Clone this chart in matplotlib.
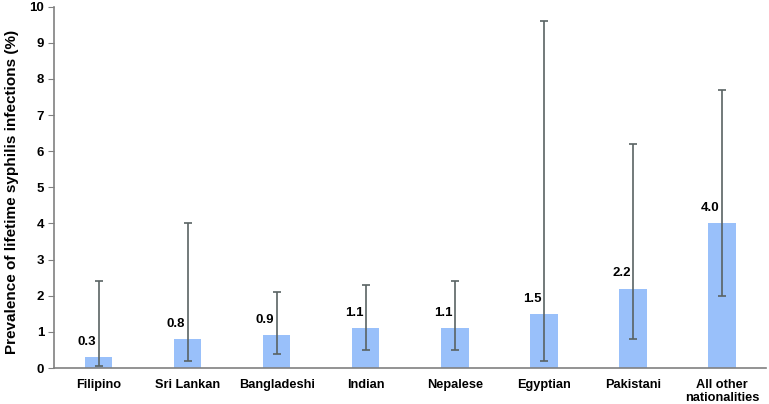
import matplotlib.pyplot as plt
import matplotlib.transforms as mtransforms
import numpy as np

plt.rcParams['font.family'] = ['Liberation Sans', 'DejaVu Sans']

nationalities = ['Filipino', 'Sri Lankan', 'Bangladeshi', 'Indian', 'Nepalese',
                 'Egyptian', 'Pakistani', 'All other\nnationalities']
prevalence = [0.3, 0.8, 0.9, 1.1, 1.1, 1.5, 2.2, 4.0]
ci_lower = [0.05, 0.2, 0.4, 0.5, 0.5, 0.2, 0.8, 2.0]
ci_upper = [2.4, 4.0, 2.1, 2.3, 2.4, 9.6, 6.2, 7.7]

x = np.arange(len(nationalities))
prev = np.array(prevalence)
yerr = [prev - np.array(ci_lower), np.array(ci_upper) - prev]

fig = plt.figure(figsize=(7.69, 4.04), dpi=100)
ax = fig.add_axes([0.0702, 0.0891, 0.9265, 0.8943])

ax.bar(x, prev, width=0.31, color='#99c0fa', zorder=2)
ax.errorbar(x, prev, yerr=yerr, fmt='none', ecolor='#5a6363', elinewidth=1.2,
            capsize=3, capthick=1.2, zorder=3)

for xi, v in zip(x, prev):
    ax.text(xi - 0.13, v + 0.25, f'{v:.1f}', ha='center', va='bottom',
            fontsize=9.5, fontweight='bold')

ax.set_xlim(-0.5, len(nationalities) - 0.5)
ax.set_ylim(0, 10)
ax.set_yticks(range(0, 11))
ax.set_xticks(x)
ax.set_xticklabels(nationalities, fontsize=9.2, fontweight='bold', linespacing=1.05)
shift = mtransforms.ScaledTranslation(0.05, 0, fig.dpi_scale_trans)
for lab in ax.get_xticklabels():
    lab.set_transform(lab.get_transform() + shift)
ax.tick_params(axis='x', length=0, pad=8)
ax.tick_params(axis='y', length=4, color='#808080', labelsize=9.5, pad=3)
for lab in ax.get_yticklabels():
    lab.set_fontweight('bold')

ax.set_ylabel('Prevalence of lifetime syphilis infections (%)', fontsize=11,
              fontweight='bold')
ax.yaxis.set_label_coords(-0.049, 0.488)

for s in ['top', 'right']:
    ax.spines[s].set_visible(False)
for s in ['left', 'bottom']:
    ax.spines[s].set_color('#808080')
    ax.spines[s].set_linewidth(1.2)

fig.savefig('out.png', dpi=100)
